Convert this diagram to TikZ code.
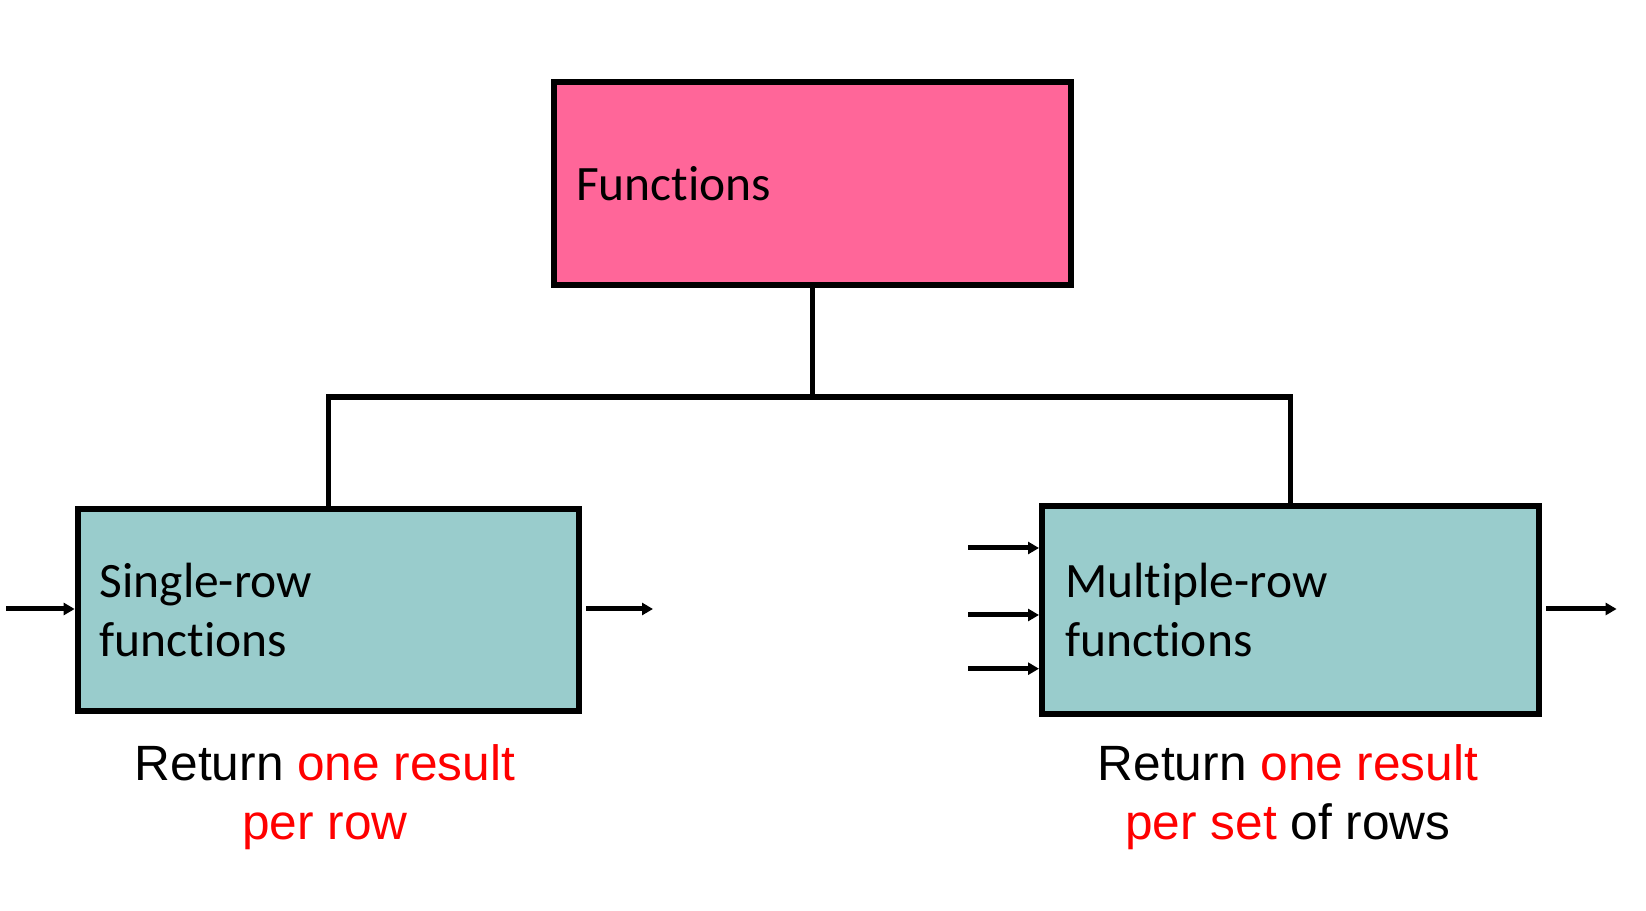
\documentclass[tikz,border=0pt]{standalone}
\usepackage{fontspec}
\setmainfont{Liberation Sans}
\newfontfamily\calib[Ligatures={NoCommon}]{Carlito}
\usetikzlibrary{arrows.meta}
\definecolor{boxpink}{HTML}{FF6699}
\definecolor{boxteal}{HTML}{99CCCC}
\definecolor{hired}{HTML}{FF0000}
\begin{document}
\begin{tikzpicture}[x=1pt,y=1pt,
  box/.style={draw=black, line width=6pt, inner xsep=22pt, inner ysep=0pt,
    align=left, font=\calib\fontsize{49.5}{59}\selectfont},
  conn/.style={line width=5.5pt},
  arr/.style={line width=5pt, -{Triangle[length=11pt,width=12pt]}},
  lbl/.style={align=center, font=\fontsize{49.6}{59}\selectfont},
]
\useasboundingbox (0,0) rectangle (1646,910);
\node[box, fill=boxpink, minimum width=517pt, minimum height=203.5pt, text width=473pt]
  (f) at (812.5,726.25) {Functions};
\node[box, fill=boxteal, minimum width=501.7pt, minimum height=201.6pt, text width=457.7pt, inner xsep=21pt]
  (l) at (328.5,300.2) {Single-row\\functions};
\node[box, fill=boxteal, minimum width=497pt, minimum height=208pt, text width=451pt, inner xsep=23pt]
  (r) at (1290.5,300) {Multiple-row\\functions};
\coordinate (j) at (812.5,513);
\draw[conn] (f.south) -- (f.south |- j);
\draw[conn] (l.north) |- (j) -| (r.north);
% arrows
\coordinate (li) at (6.3,301);
\coordinate (lo) at (653,301);
\coordinate (ri1) at (968,362);
\coordinate (ri2) at (968,295);
\coordinate (ri3) at (968,241.3);
\coordinate (ro) at (1616.6,301);
\draw[arr] (li) -- (li -| l.west);
\draw[arr] ([xshift=4pt]l.east |- lo) -- (lo);
\draw[arr] (ri1) -- (ri1 -| r.west);
\draw[arr] (ri2) -- (ri2 -| r.west);
\draw[arr] (ri3) -- (ri3 -| r.west);
\draw[arr] ([xshift=4pt]r.east |- ro) -- (ro);
% labels
\node[lbl] (ll) at (325,113) {Return \textcolor{hired}{one result}\\\textcolor{hired}{per row}};
\node[lbl] (rl) at (1288,113) {Return \textcolor{hired}{one result}\\\textcolor{hired}{per set} of rows};
\end{tikzpicture}
\end{document}
